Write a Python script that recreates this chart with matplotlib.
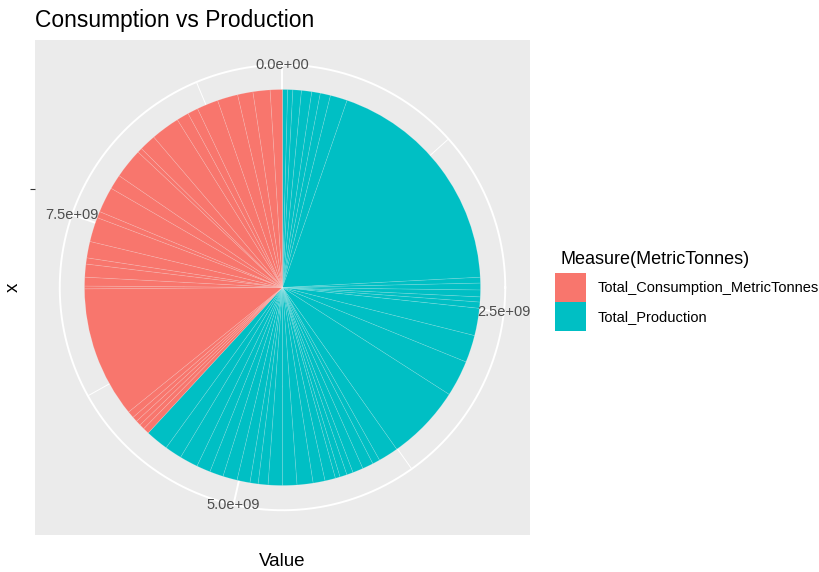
import numpy as np
import matplotlib
matplotlib.use('Agg')
import matplotlib.pyplot as plt
from matplotlib.patches import Patch

plt.rcParams['font.family'] = ['Liberation Sans', 'DejaVu Sans']

# ---- data (values in units of 1e9 metric tonnes), clockwise from the top ----
categories = ['Total_Consumption_MetricTonnes', 'Total_Production']
production = [0.039, 0.039, 0.065, 0.078, 0.065, 0.078, 0.130, 1.764, 0.044, 0.052,
              0.052, 0.039, 0.047, 0.208, 0.208, 0.275, 0.573, 0.153, 0.057, 0.083,
              0.080, 0.049, 0.054, 0.036, 0.080, 0.091, 0.122, 0.109, 0.109, 0.075,
              0.062, 0.099, 0.109, 0.104, 0.106, 0.140, 0.130, 0.174]
consumption = [0.047, 0.039, 0.039, 0.039, 0.052, 1.001, 0.021, 0.067, 0.099, 0.047,
               0.125, 0.187, 0.049, 0.195, 0.112, 0.228, 0.036, 0.127, 0.220, 0.093,
               0.080, 0.163, 0.156, 0.117, 0.130, 0.093]
theta_breaks = [0.0, 2.5, 5.0, 7.5]
theta_minor = [1.25, 3.75, 6.25, 8.75]
theta_labels = ['0.0e+00', '2.5e+09', '5.0e+09', '7.5e+09']
fill_colors = {'Total_Consumption_MetricTonnes': '#F8766D', 'Total_Production': '#00BFC4'}

W, H = 820, 572
fig = plt.figure(figsize=(W / 100, H / 100), dpi=100)
fig.patch.set_facecolor('white')

px0, py0, pw = 35, 40, 495
ax = fig.add_axes([px0 / W, 1 - (py0 + pw) / H, pw / W, pw / H])
ax.set_facecolor('#EBEBEB')
for s in ax.spines.values():
    s.set_visible(False)

values = production + consumption
slice_colors = ([fill_colors['Total_Production']] * len(production)
                + [fill_colors['Total_Consumption_MetricTonnes']] * len(consumption))
total = float(np.sum(values))

R = 0.4
wedges, _ = ax.pie(values, colors=slice_colors, startangle=90, counterclock=False,
                   radius=R, center=(0, 0), frame=True,
                   wedgeprops=dict(linewidth=0.5, edgecolor=(1, 1, 1, 0.18)))
for w in wedges:
    w.set_zorder(3)

def ang(v):
    return np.deg2rad(90 - v / total * 360.0)

# grid (under the pie)
for v in theta_breaks:
    a = ang(v)
    ax.plot([0, 0.45 * np.cos(a)], [0, 0.45 * np.sin(a)], color='white', lw=1.4, zorder=1)
for v in theta_minor:
    if v < total:
        a = ang(v)
        ax.plot([0, 0.45 * np.cos(a)], [0, 0.45 * np.sin(a)], color='white', lw=0.7, zorder=1)
tt = np.linspace(0, 2 * np.pi, 400)
ax.plot(0.45 * np.cos(tt), 0.45 * np.sin(tt), color='white', lw=1.4, zorder=1)
ax.plot(0.2 * np.cos(tt), 0.2 * np.sin(tt), color='white', lw=1.4, zorder=1)

for v, lab in zip(theta_breaks, theta_labels):
    a = ang(v)
    ax.text(0.45 * np.cos(a), 0.45 * np.sin(a), lab, ha='center', va='center',
            fontsize=10.5, color='#4D4D4D', zorder=4)

ax.set_xlim(-0.5, 0.5)
ax.set_ylim(-0.5, 0.5)
ax.set_aspect('equal')
ax.set_xticks([])
ax.set_yticks([0.2])
ax.set_yticklabels([''])
ax.tick_params(axis='y', length=3.6, width=0.8, color='#333333')

ax.set_xlabel('Value', fontsize=13.5, color='black')
ax.xaxis.set_label_coords(0.5, -0.036)
ax.set_ylabel('x', fontsize=13.5, color='black')
ax.yaxis.set_label_coords(-0.027, 0.5)

fig.text(35 / W, 1 - 27 / H, 'Consumption vs Production', fontsize=16.4,
         ha='left', va='baseline', color='black')

# legend
fig.text(560 / W, 1 - 264 / H, 'Measure(MetricTonnes)', fontsize=13,
         ha='left', va='baseline', color='black')
handles = [Patch(facecolor=fill_colors[c], edgecolor='none') for c in categories]
leg = fig.legend(handles, categories, loc='upper left',
                 bbox_to_anchor=(555 / W, 1 - 273 / H), frameon=False,
                 fontsize=10.5, handlelength=2.13, handleheight=2.70,
                 labelspacing=0.0, handletextpad=0.8, borderpad=0, borderaxespad=0)

fig.savefig('out.png', dpi=100)
